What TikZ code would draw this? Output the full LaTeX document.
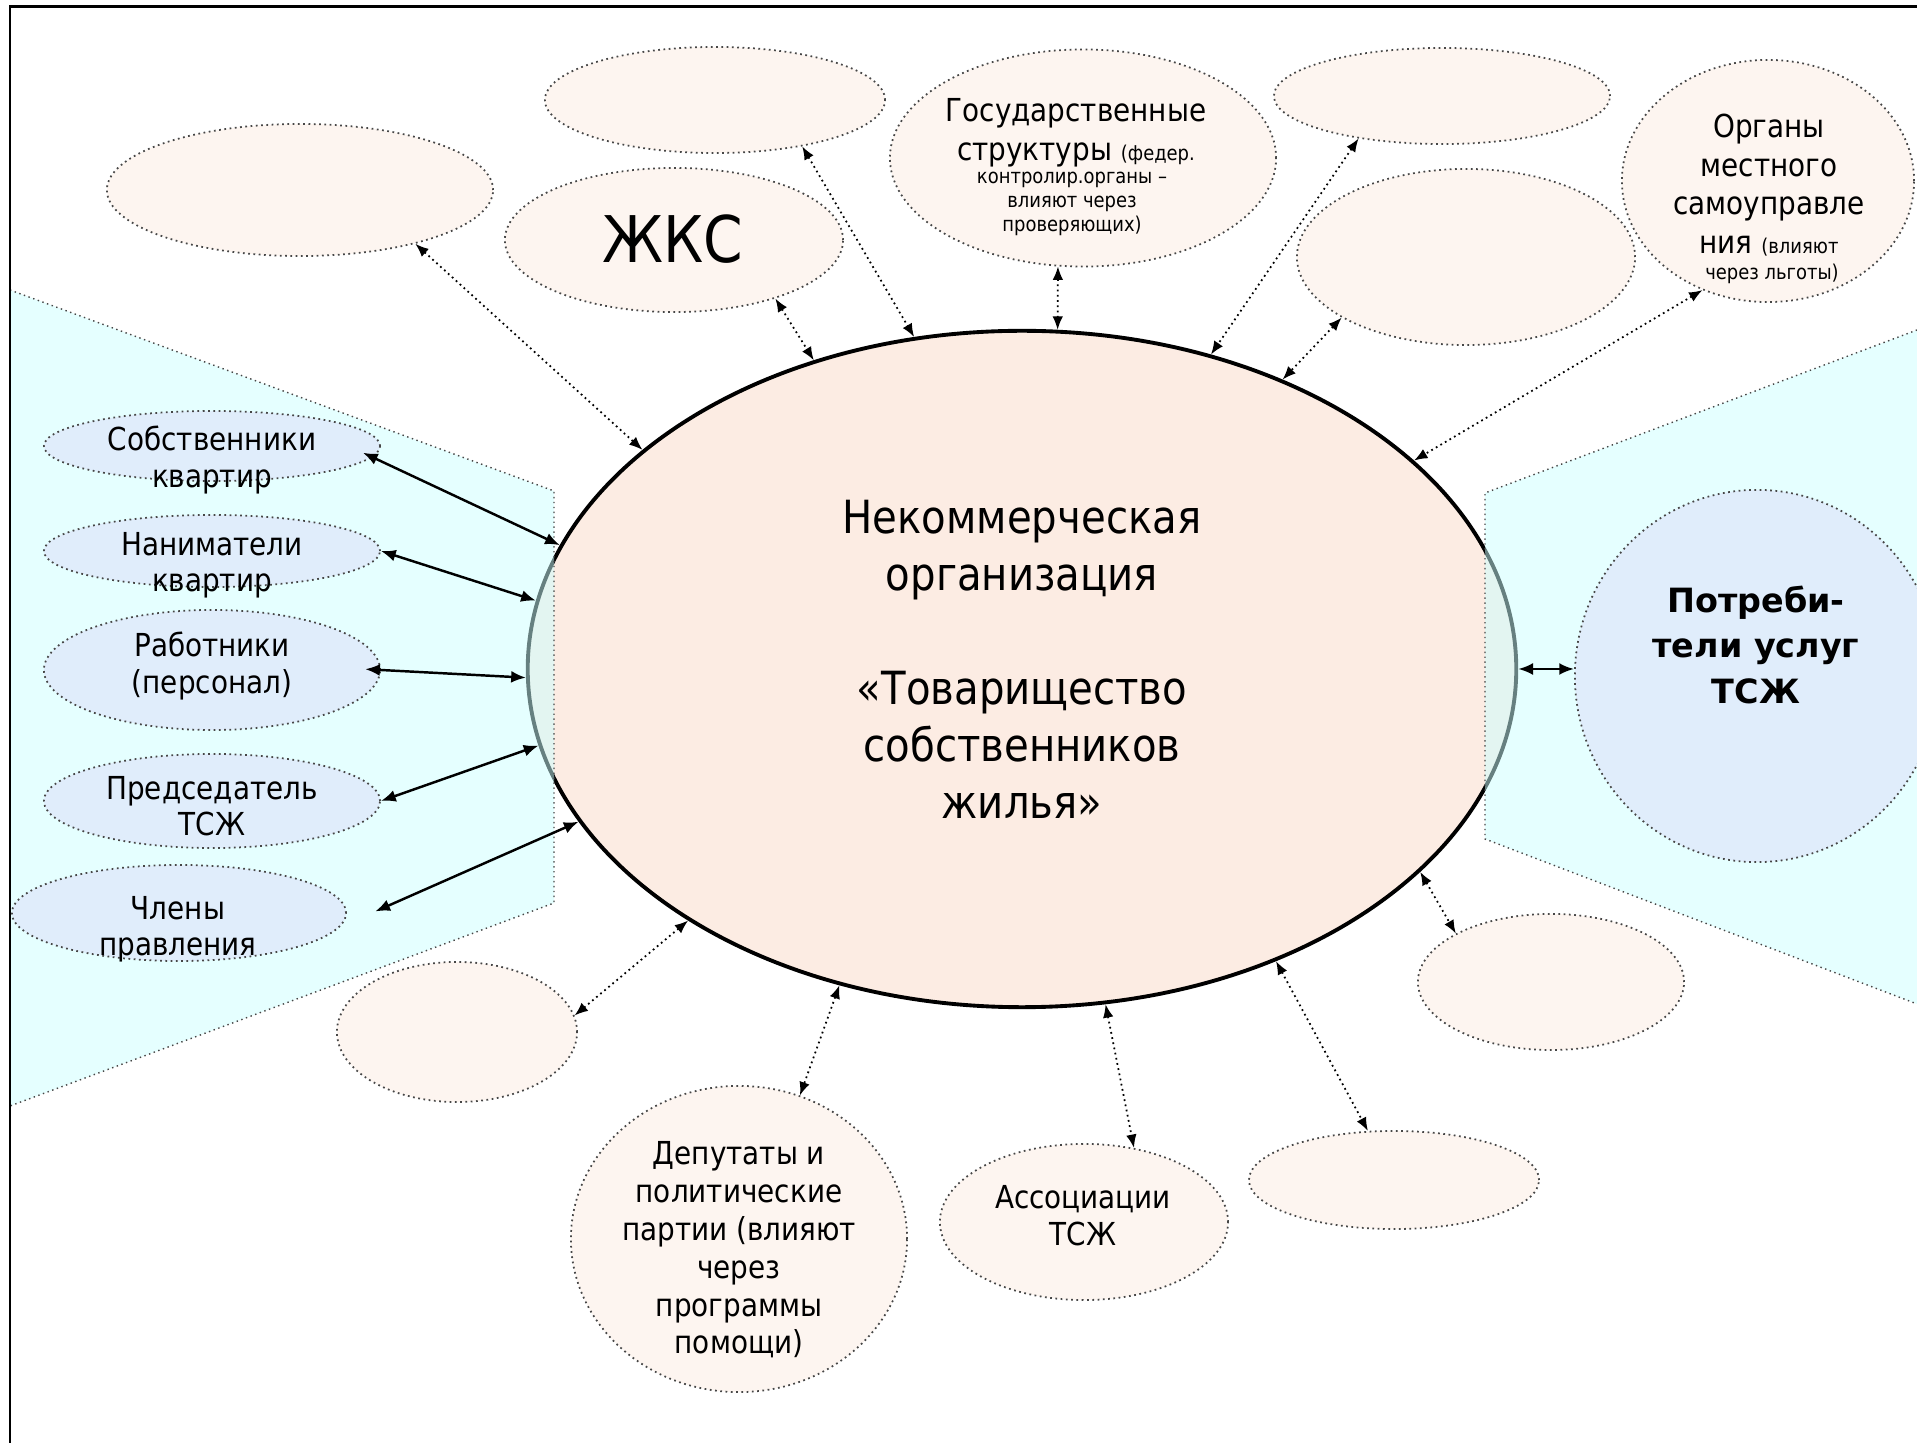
\documentclass[tikz,border=0pt]{standalone}
\usepackage{fontspec}
\setmainfont[FakeStretch=0.88]{DejaVu Sans}
\newfontfamily\widefont{DejaVu Sans}
\usetikzlibrary{shapes.geometric,arrows.meta}

\definecolor{orgfill}{RGB}{252,236,227}
\definecolor{blankfill}{RGB}{253,245,240}
\definecolor{memberfill}{RGB}{224,237,251}
\definecolor{zonefill}{RGB}{204,255,255}
\definecolor{dotline}{RGB}{70,70,70}

\tikzset{
  org/.style={ellipse, draw=black, line width=1.1pt, fill=orgfill, inner sep=0pt},
  blank/.style={ellipse, draw=dotline, densely dotted, line width=0.5pt, fill=blankfill, inner sep=0pt},
  member/.style={ellipse, draw=dotline, densely dotted, line width=0.5pt, fill=memberfill, inner sep=0pt},
  zone/.style={draw=dotline, densely dotted, line width=0.4pt, fill=zonefill, fill opacity=0.5},
  lbl/.style={align=center, inner sep=0pt, font=\fontsize{9}{10.25}\selectfont},
  link/.style={{Latex[length=4.2pt,width=3.4pt]}-{Latex[length=4.2pt,width=3.4pt]}, line width=0.7pt},
  dotlink/.style={{Latex[length=3.8pt,width=3pt]}-{Latex[length=3.8pt,width=3pt]}, densely dotted, line width=0.5pt},
}

\begin{document}
\begin{tikzpicture}[x=0.01cm, y=-0.01cm]
    \useasboundingbox (0,0) rectangle (1917,1443);

    % the partnership itself
    \node[org, minimum width=9.88cm, minimum height=6.76cm] (tsj) at (1022,669) {};
    \node[lbl, font=\fontsize{13}{16.2}\selectfont] (tsjt) at (1022,659)
    {Некоммерческая\\организация\\[16.2pt]«Товарищество\\собственников\\жилья»};

    % inner and outer zones
    \draw[zone] (10,290) -- (554,491) -- (554,903) -- (10,1106);
    \draw[zone] (1917,330) -- (1485,493) -- (1485,839) -- (1917,1004);

    % members
    \node[member, minimum width=3.36cm, minimum height=0.7cm] (owners) at (212,446) {};
    \node[member, minimum width=3.36cm, minimum height=0.72cm] (tenants) at (212,551) {};
    \node[member, minimum width=3.36cm, minimum height=1.2cm] (staff) at (212,670) {};
    \node[member, minimum width=3.36cm, minimum height=0.94cm] (chair) at (212,801) {};
    \node[member, minimum width=3.34cm, minimum height=0.96cm] (board) at (179,913) {};
    \node[member, minimum width=3.64cm, minimum height=3.72cm] (users) at (1757,676) {};

    \node[lbl] (ownerst) at (212,460) {Собственники\\квартир};
    \node[lbl] (tenantst) at (212,565) {Наниматели\\квартир};
    \node[lbl] (stafft) at (212,666) {Работники\\(персонал)};
    \node[lbl] (chairt) at (212,806) {Председатель\\ТСЖ};
    \node[lbl] (boardt) at (178,929) {Члены\\правления};
    \node[lbl, font=\widefont\bfseries\fontsize{9.5}{12.9}\selectfont] (userst) at (1756,645)
    {Потреби-\\тели услуг\\ТСЖ};

    % outside bodies
    \node[blank, minimum width=3.86cm, minimum height=1.32cm] (upleft) at (300,190) {};
    \node[blank, minimum width=3.40cm, minimum height=1.06cm] (upmid) at (715,100) {};
    \node[blank, minimum width=3.38cm, minimum height=1.44cm] (zhks) at (674,240) {};
    \node[blank, minimum width=3.86cm, minimum height=2.17cm] (gov) at (1083,158) {};
    \node[blank, minimum width=3.36cm, minimum height=0.96cm] (upright) at (1442,96) {};
    \node[blank, minimum width=3.38cm, minimum height=1.76cm] (midright) at (1466,257) {};
    \node[blank, minimum width=2.92cm, minimum height=2.42cm] (local) at (1768,181) {};
    \node[blank, minimum width=2.66cm, minimum height=1.36cm] (lowright) at (1551,982) {};
    \node[blank, minimum width=2.90cm, minimum height=0.98cm] (bottomright) at (1394,1180) {};
    \node[blank, minimum width=2.88cm, minimum height=1.56cm] (assoc) at (1084,1222) {};
    \node[blank, minimum width=3.36cm, minimum height=3.06cm] (deputies) at (739,1239) {};
    \node[blank, minimum width=2.40cm, minimum height=1.40cm] (lowleft) at (457,1032) {};

    \node[lbl, font=\fontsize{18.3}{22}\selectfont] (zhkst) at (673,239) {ЖКС};
    \node[lbl, font=\fontsize{9}{11.1}\selectfont] (govt) at (1076,133)
    {Государственные\\структуры {\fontsize{5.8}{6.8}\selectfont (федер.}};
    \node[lbl, font=\fontsize{5.8}{6.8}\selectfont] (govt2) at (1072,204)
    {контролир.органы –\\влияют через\\проверяющих)};
    \node[lbl, font=\fontsize{9}{11}\selectfont] (localt) at (1769,185)
    {Органы\\местного\\самоуправле\\ния {\fontsize{5.8}{6.8}\selectfont (влияют}};
    \node[lbl, font=\fontsize{5.8}{6.8}\selectfont, anchor=base] (localt2) at (1772,280) {через льготы)};
    \node[lbl, font=\fontsize{9}{10.75}\selectfont] (deputiest) at (739,1250)
    {Депутаты и\\политические\\партии (влияют\\через\\программы\\помощи)};
    \node[lbl, font=\fontsize{9}{10.6}\selectfont] (assoct) at (1083,1216) {Ассоциации\\ТСЖ};

    % ties with members
    \draw[link, shorten <=-3pt] (owners.-4) -- (tsj.165);
    \draw[link] (tenants.east) -- (tsj.172);
    \draw[link, shorten <=-4.5pt] (staff.east) -- (tsj.181);
    \draw[link] (chair.east) -- (tsj.189);
    \draw[link, shorten <=11pt] (board.-5) -- (tsj.199);
    \draw[link] (tsj.east) -- (tsj.east -| users.west);

    % ties with outside bodies
    \draw[dotlink] (upleft.-25) -- (tsj.150);
    \draw[dotlink] (zhks.-30) -- (tsj.124);
    \draw[dotlink] (upmid.-28) -- (tsj.108);
    \draw[dotlink] (gov.-103) -- (tsj.84);
    \draw[dotlink] (upright.207) -- (tsj.59);
    \draw[dotlink] (midright.206) -- (tsj.48);
    \draw[dotlink] (local.239) -- (tsj.28);
    \draw[dotlink] (tsj.-27) -- (lowright.153);
    \draw[dotlink] (tsj.-49) -- (bottomright.118);
    \draw[dotlink] (tsj.-76) -- (assoc.56);
    \draw[dotlink] (tsj.240) -- (deputies.67);
    \draw[dotlink] (tsj.217) -- (lowleft.8);

    % frame
    \draw[line width=0.85pt] (10,1443) -- (10,7) -- (1917,7);
\end{tikzpicture}
\end{document}
